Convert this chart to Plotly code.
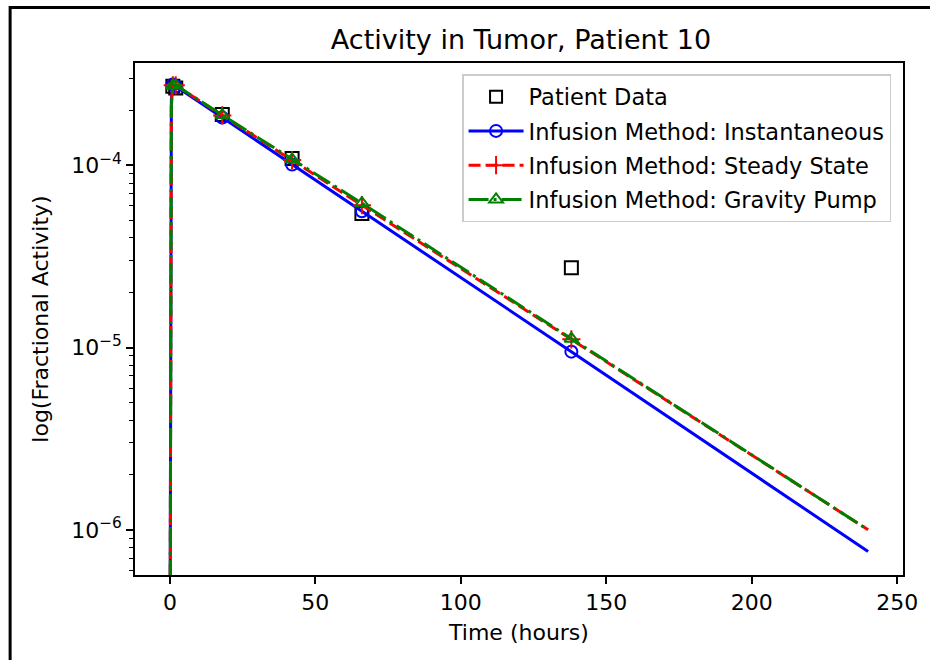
import plotly.graph_objects as go

# ---------------- data ----------------
data_t = [1, 2, 18, 42, 66, 138]
patient = [2.72e-4, 2.66e-4, 1.90e-4, 1.09e-4, 5.45e-5, 2.74e-5]

model_t = [0, 0.25, 0.5, 1, 2, 18, 42, 66, 138, 240]
inst = [1e-7, 1.2e-4, 2.3e-4, 2.78e-4, 2.72e-4, 1.83e-4, 1.01e-4, 5.6e-5, 9.5e-6, 7.6e-7]
steady = [1e-7, 1.0e-4, 2.2e-4, 2.75e-4, 2.75e-4, 1.88e-4, 1.07e-4, 6.05e-5, 1.11e-5, 1.0e-6]
gravity = [1e-7, 0.9e-4, 2.1e-4, 2.74e-4, 2.75e-4, 1.89e-4, 1.08e-4, 6.2e-5, 1.12e-5, 1.0e-6]

x_ticks = [0, 50, 100, 150, 200, 250]
y_ticks = [1e-6, 1e-5, 1e-4]
y_ticktext = ["10<sup>\u22126</sup>", "10<sup>\u22125</sup>", "10<sup>\u22124</sup>"]

BLUE, RED, GREEN = "#0000ff", "#ff0000", "#008000"
FONT = "DejaVu Sans"

def at_marks(vals):
    return [vals[model_t.index(t)] for t in data_t]

fig = go.Figure()

series = [
    ("Infusion Method: Instantaneous", inst, BLUE, "solid", "circle-open", 12),
    ("Infusion Method: Steady State", steady, RED, "12px,5px", "cross-thin-open", 13),
    ("Infusion Method: Gravity Pump", gravity, GREEN, "20px,5px,3px,5px", "triangle-up-open", 12),
]

# legend-only entries
fig.add_trace(go.Scatter(x=[None], y=[None], mode="markers", name="Patient Data",
                         legendgroup="a",
                         marker=dict(symbol="square-open", size=12, color="black",
                                     line=dict(width=2, color="black"))))
for i, (name, vals, col, dash, sym, sz) in enumerate(series):
    fig.add_trace(go.Scatter(x=[None], y=[None], mode="lines+markers", name=name,
                             legendgroup=f"g{i}",
                             line=dict(color=col, width=3, dash=dash),
                             marker=dict(symbol=sym, size=sz, color=col,
                                         line=dict(width=2, color=col))))

# patient data
fig.add_trace(go.Scatter(x=data_t, y=patient, mode="markers", showlegend=False,
                         marker=dict(symbol="square-open", size=13, color="black",
                                     line=dict(width=2, color="black"))))

for i, (name, vals, col, dash, sym, sz) in enumerate(series):
    fig.add_trace(go.Scatter(x=model_t, y=vals, mode="lines", showlegend=False,
                             line=dict(color=col, width=3, dash=dash)))
    fig.add_trace(go.Scatter(x=data_t, y=at_marks(vals), mode="markers", showlegend=False,
                             marker=dict(symbol=sym, size=sz, color=col,
                                         line=dict(width=2, color=col))))

L, R, T, B = 135, 23, 63, 85
W, H = 930, 660
pw, ph = W - L - R, H - T - B

def px2paper_x(px):
    return (px - L) / pw

def px2paper_y(py):
    return 1 - (py - T) / ph

minor_vals = [m * 10.0 ** e for e in range(-7, -2) for m in range(2, 10)]

fig.update_layout(
    width=W, height=H,
    margin=dict(l=L, r=R, t=T, b=B),
    paper_bgcolor="white", plot_bgcolor="white",
    font=dict(family=FONT, size=22, color="black"),
    title=dict(text="Activity in Tumor, Patient 10", x=(135 + 772 / 2) / W, xanchor="center",
               y=1 - 40 / H, yanchor="middle", font=dict(size=27, family=FONT)),
    legend=dict(x=px2paper_x(895), xanchor="right", y=px2paper_y(74), yanchor="top",
                bgcolor="white", bordercolor="#cccccc", borderwidth=1.5,
                font=dict(size=22.5, family=FONT), traceorder="grouped", tracegroupgap=2,
                itemwidth=55),
    xaxis=dict(range=[-12, 252], tickvals=x_ticks, ticks="outside", ticklen=7, tickwidth=1.5,
               tickcolor="black", showline=True, linecolor="black", linewidth=1.5, mirror=True,
               showgrid=False, zeroline=False, tickfont=dict(size=22),
               title=dict(text="Time (hours)", font=dict(size=22), standoff=10)),
    yaxis=dict(type="log", range=[-6.248, -3.438], tickvals=y_ticks, ticktext=y_ticktext,
               ticks="outside", ticklen=7, tickwidth=1.5, tickcolor="black",
               showline=True, linecolor="black", linewidth=1.5, mirror=True,
               showgrid=False, zeroline=False, tickfont=dict(size=22),
               minor=dict(tickvals=minor_vals, ticks="outside", ticklen=4, tickwidth=1.2,
                          tickcolor="black", showgrid=False),
               title=dict(text="log(Fractional Activity)", font=dict(size=22), standoff=16)),
    shapes=[
        dict(type="path", xref="paper", yref="paper",
             path="M {:.4f},{:.4f} L {:.4f},{:.4f} L {:.4f},{:.4f}".format(
                 px2paper_x(9.5), px2paper_y(665), px2paper_x(9.5), px2paper_y(7.5),
                 px2paper_x(935), px2paper_y(7.5)),
             line=dict(color="black", width=3), fillcolor="rgba(0,0,0,0)", layer="below"),
    ],
)

fig.write_html("out.html", config={"displayModeBar": False},
               post_script="document.body.style.margin='0';document.body.style.overflow='hidden';")
